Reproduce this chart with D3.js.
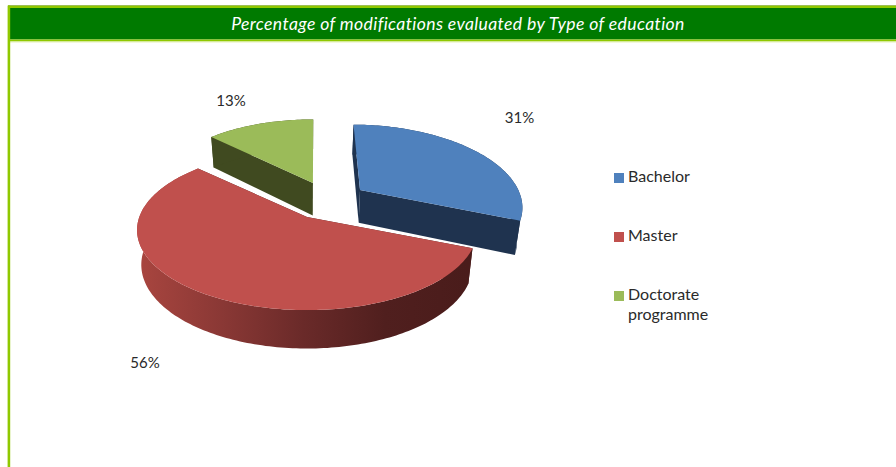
<!DOCTYPE html>
<html><head><meta charset="utf-8">
<script src="https://cdn.jsdelivr.net/npm/d3@7"></script>
<style>html,body{margin:0;padding:0;background:#fff}svg{display:block}text{font-family:Lato,"Open Sans",sans-serif}</style>
</head><body><div id="c"></div>
<script>
const categories = ["Bachelor", "Master", "Doctorate programme"];
const values = [31, 56, 13];
const labels = ["31%", "56%", "13%"];
const title = "Percentage of modifications evaluated by Type of education";
const legendLines = [["Bachelor"], ["Master"], ["Doctorate", "programme"]];
const topColors = ["#4f81bd", "#c0504d", "#9bbb59"];
const wallColors = ["#1f334f", "#4e1f1e", "#404a20"];

const W = 896, H = 467;
const svg = d3.select("#c").append("svg").attr("width", W).attr("height", H);
const color = d3.scaleOrdinal(categories, topColors);
const wall = d3.scaleOrdinal(categories, wallColors);

// frame
svg.append("rect").attr("x",8).attr("y",5).attr("width",W-8).attr("height",1).attr("fill","#a9b98a");
svg.append("rect").attr("x",8).attr("y",5.6).attr("width",W-8).attr("height",2.6).attr("fill","#8fc800");
svg.append("rect").attr("x",10).attr("y",8).attr("width",W-10).attr("height",31.5).attr("fill","#007a00");
svg.append("rect").attr("x",8).attr("y",39.5).attr("width",W-8).attr("height",2).attr("fill","#8fc800");
svg.append("rect").attr("x",10).attr("y",41.5).attr("width",W-10).attr("height",1).attr("fill","#e4f2b8");
svg.append("rect").attr("x",7.6).attr("y",5.6).attr("width",2.6).attr("height",H).attr("fill","#8fc800");
svg.append("text").attr("x",458).attr("y",29.5).attr("text-anchor","middle")
  .attr("fill","#fff").attr("font-style","italic").attr("font-size",17.6).attr("letter-spacing",0.37).text(title);

// 3-D pie: ground-plane → screen with perspective
const cx = 307, cy = 217, R = 167.7, tilt = 0.465, k = 0.1625, depth = 35, baseScale = 0.975;
const explode = { "Bachelor": [0.335, -0.367, 1.1], "Master": [0, 0, 1], "Doctorate programme": [0.038, -0.47, 1.1] };
function project(u, v, low) {
  let s = 1 / (1 - k * v);
  if (low) s *= baseScale;
  return [cx + R * u * s, cy + R * tilt * v * s + (low ? depth * s : 0)];
}
const rot = 0.5 * Math.PI / 180;
const pie = d3.pie().sort(null).startAngle(rot).endAngle(rot + 2 * Math.PI);
const arcs = pie(values).map((d, i) => ({ ...d, name: categories[i] }));
const line = d3.line();

const defs = svg.append("defs");
const grad = defs.append("linearGradient").attr("id","wallGrad").attr("gradientUnits","userSpaceOnUse")
  .attr("x1",140).attr("x2",467).attr("y1",0).attr("y2",0);
[[0,"#a8453f"],[0.25,"#8a3835"],[0.5,"#6a2a29"],[0.75,"#501f1e"],[1,"#4a1c1b"]]
  .forEach(([o,c]) => grad.append("stop").attr("offset",o).attr("stop-color",c));

function rim(d, e, low) {
  const n = Math.max(2, Math.ceil((d.endAngle - d.startAngle) / 0.02));
  return d3.range(n + 1).map(i => {
    const a = d.startAngle + (d.endAngle - d.startAngle) * i / n;
    return project(e[0] + Math.sin(a), e[1] - Math.cos(a) * e[2], low);
  });
}
const order = ["Doctorate programme", "Bachelor", "Master"];
order.forEach(name => {
  const d = arcs.find(a => a.name === name), e = explode[name];
  const g = svg.append("g");
  const top = rim(d, e, false), low = rim(d, e, true);
  const a0 = project(e[0], e[1], false), a1 = project(e[0], e[1], true);
  const wallFill = name === "Master" ? "url(#wallGrad)" : wall(name);
  [0, top.length - 1].forEach(i =>
    g.append("path").attr("d", line([a0, top[i], low[i], a1]) + "Z").attr("fill", wall(name)));
  g.append("path").attr("d", line(top.concat(low.slice().reverse())) + "Z").attr("fill", wallFill);
  g.append("path").attr("d", line([a0].concat(top)) + "Z").attr("fill", color(name));
});

// data labels
const labelPos = { "Bachelor": [519.5, 123], "Master": [145, 368], "Doctorate programme": [231, 106] };
arcs.forEach((d, i) => {
  svg.append("text").attr("x", labelPos[d.name][0]).attr("y", labelPos[d.name][1])
    .attr("text-anchor","middle").attr("font-size",15).attr("fill","#2a2a2a").text(labels[i]);
});

// legend
const legendY = d3.scalePoint().domain(categories).range([182, 300]);
categories.forEach((c, i) => {
  const y = legendY(c);
  svg.append("rect").attr("x",614).attr("y",y-9).attr("width",10).attr("height",10).attr("fill",color(c));
  legendLines[i].forEach((t, j) => {
    svg.append("text").attr("x",628).attr("y",y + j*20).attr("font-size",16).attr("fill","#2a2a2a").text(t);
  });
});
</script></body></html>
